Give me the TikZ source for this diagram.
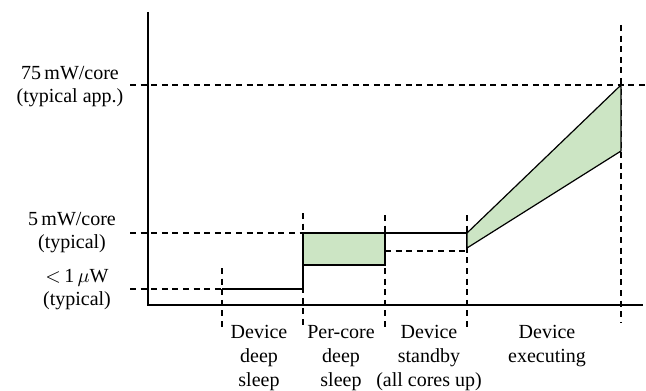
\documentclass[tikz,border=0pt]{standalone}
\usepackage{fontspec}
\setmainfont{Liberation Serif}
\definecolor{bandgreen}{RGB}{204,229,196}

\begin{document}
\begin{tikzpicture}[x=0.5pt, y=-0.5pt, line width=0.7pt,
    guide/.style={dash pattern=on 3pt off 2.3pt, line width=0.6pt},
    band/.style={draw, fill=bandgreen, line width=0.6pt},
    lvl/.style={align=center, inner sep=0pt, font=\fontsize{10}{11.5}\selectfont},
    phase/.style={align=center, inner sep=0pt, anchor=north, font=\fontsize{10}{12}\selectfont}]
    \useasboundingbox (0,0) rectangle (646,390);
    % Level labels
    \node[lvl] (lhigh) at (70,87) {75\,mW/core\\(typical app.)};
    \node[lvl] (lmid) at (72,233) {5\,mW/core\\(typical)};
    \node[lvl] (llow) at (77,290) {$<$\,1\,$\mu$W\\(typical)};
    % Phase labels
    \node[phase] (sdeep) at (259,325) {Device\\deep\\sleep};
    \node[phase] (score) at (341,325) {Per-core\\deep\\sleep};
    \node[phase] (sstand) at (429,325) {Device\\standby\\(all cores up)};
    \node[phase] (sexec) at (547,325) {Device\\executing};
    % Level lines
    \draw[guide] (130,85) -- (646,85);
    \draw[guide] (130,233) -- (303,233);
    \draw[guide] (130,289) -- (222,289);
    % Phase borders
    \draw[guide] (222,268) -- (222,328);
    \draw[guide] (303,213) -- (303,328);
    \draw[guide] (385,215) -- (385,328);
    \draw[guide] (467,215) -- (467,328);
    \draw[guide] (621,25) -- (621,323);
    % Power profile
    \draw (222,289) -- (303,289) -- (303,233);
    \draw[band] (303,233) rectangle (385,265);
    \draw (385,233) -- (467,233) -- (467,248);
    \draw[guide] (385,251) -- (467,251);
    \draw[band] (467,233) -- (621,85) -- (621,151) -- (467,248) -- cycle;
    % Axes
    \draw (148,12) -- (148,305) -- (643,305);
\end{tikzpicture}
\end{document}
